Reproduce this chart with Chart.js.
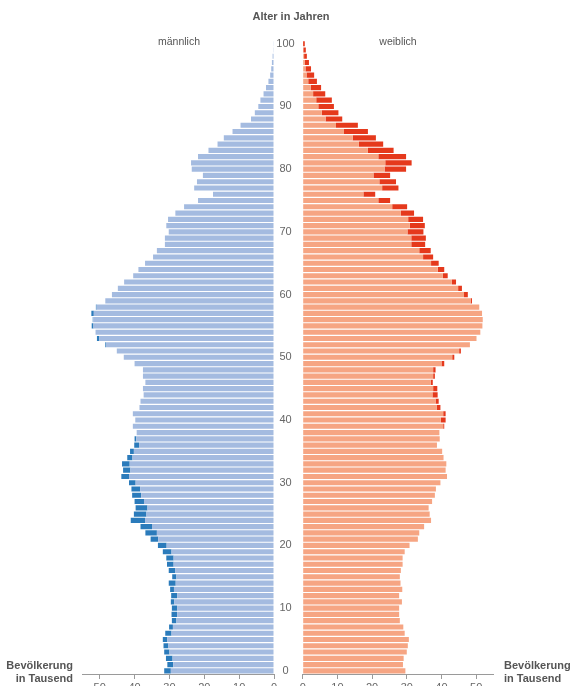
<!DOCTYPE html>
<html><head><meta charset="utf-8">
<script src="https://cdn.jsdelivr.net/npm/chart.js@4"></script>
<style>
html,body{margin:0;padding:0;width:575px;height:686px;overflow:hidden;background:#fff;font-family:"Liberation Sans",Arial,sans-serif;}
#wrap{position:relative;width:575px;height:686px;overflow:hidden;}
.c{position:absolute;top:0;}
.t{position:absolute;color:#555;white-space:nowrap;line-height:13px;}
</style></head><body>
<div id="wrap">
<canvas id="m" class="c" style="left:0" width="280" height="700"></canvas>
<canvas id="f" class="c" style="left:274px" width="301" height="700"></canvas>
<div class="t" style="left:291px;top:10px;transform:translateX(-50%);font-weight:bold;font-size:11px">Alter in Jahren</div>
<div class="t" style="left:179px;top:35px;transform:translateX(-50%);font-size:10.5px">männlich</div>
<div class="t" style="left:398px;top:35px;transform:translateX(-50%);font-size:10.5px">weiblich</div>
<div class="t" style="right:502px;top:659px;text-align:right;font-weight:bold;font-size:11px">Bevölkerung<br>in Tausend</div>
<div class="t" style="left:504px;top:659px;text-align:left;font-weight:bold;font-size:11px">Bevölkerung<br>in Tausend</div>
</div>
<script>
const ages = Array.from({length:101},(_,i)=>String(i));
const male = [31.5,30.6,31.0,31.5,31.7,31.9,31.2,30.1,29.3,29.4,
29.3,29.6,29.5,29.8,30.2,29.2,30.2,30.7,30.9,31.9,
33.3,35.4,36.9,38.3,41.1,40.2,39.7,40.0,40.7,40.9,
41.6,43.8,43.3,43.6,42.1,41.3,40.1,40.0,39.4,40.5,
39.8,40.5,38.6,38.3,37.4,37.6,36.9,37.6,37.6,40.0,
43.1,45.1,48.4,50.8,51.2,52.3,52.0,52.4,51.1,48.4,
46.5,44.8,43.0,40.4,38.9,37.0,34.7,33.6,31.3,31.3,
30.2,30.9,30.4,28.3,25.8,21.8,17.5,22.9,22.1,20.4,
23.6,23.8,21.8,18.8,16.2,14.4,11.9,9.6,6.6,5.5,
4.5,3.9,3.0,2.3,1.6,1.1,0.8,0.6,0.4,0.2,0.1];
const female = [29.6,28.9,29.1,30.0,30.3,30.6,29.4,29.0,28.0,27.8,
27.8,28.6,27.8,28.7,28.2,28.0,28.3,28.8,28.8,29.4,
30.8,33.2,33.6,35.0,37.0,36.6,36.3,37.3,38.1,38.4,
39.7,41.6,41.2,41.4,40.6,40.2,38.7,39.5,39.4,40.8,
41.2,41.2,39.7,39.2,38.9,38.8,37.5,38.1,38.3,40.8,
43.7,45.6,48.2,50.1,51.2,51.8,51.9,51.7,50.9,48.8,
47.6,45.9,44.2,41.8,40.8,39.2,37.6,36.9,35.3,35.5,
34.8,35.2,34.7,32.1,30.1,25.2,20.9,27.6,26.9,25.2,
29.8,31.4,29.8,26.2,23.2,21.1,18.8,15.9,11.4,10.3,
9.0,8.4,6.5,5.3,4.1,3.3,2.4,1.8,1.2,0.9,0.6];
const xTicks = [0,10,20,30,40,50];

const common = Math.min;
const baseVals = male.map((v,i)=>common(v,female[i]));
const maleExcess = male.map((v,i)=>Math.max(v-female[i],0));
const femaleExcess = female.map((v,i)=>Math.max(v-male[i],0));

const axisColor = '#9a9a9a';
const tickFont = {family:'"Liberation Sans", Arial, sans-serif', size:11};

function xAxis(reverse){
  return {
    type:'linear', position:'bottom', min:0, max:55, reverse:reverse, stacked:true,
    afterBuildTicks:s=>{ s.ticks = xTicks.map(v=>({value:v})); },
    afterFit:s=>{ s.height = 26; },
    grid:{drawOnChartArea:false, drawTicks:true, tickLength:5, color:axisColor},
    border:{display:true, color:axisColor},
    ticks:{color:'#666', font:tickFont, padding:2, maxRotation:0}
  };
}
const baseOpts = {
  responsive:false, animation:false, indexAxis:'y',
  plugins:{legend:{display:false}, tooltip:{enabled:false}},
  datasets:{bar:{barPercentage:0.82, categoryPercentage:1, borderWidth:0}}
};

new Chart(document.getElementById('m'), {
  type:'bar',
  data:{labels:ages, datasets:[
    {data:baseVals, backgroundColor:'#a4bbe0'},
    {data:maleExcess, backgroundColor:'#2b7bbb'}
  ]},
  options:Object.assign({}, baseOpts, {
    layout:{padding:{left:82.3, right:6, top:40.6, bottom:0}},
    scales:{
      x:xAxis(true),
      y:{type:'category', reverse:true, stacked:true, display:false}
    }
  })
});

new Chart(document.getElementById('f'), {
  type:'bar',
  data:{labels:ages, datasets:[
    {data:baseVals, backgroundColor:'#f6a583'},
    {data:femaleExcess, backgroundColor:'#e5391c'}
  ]},
  options:Object.assign({}, baseOpts, {
    layout:{padding:{left:0, right:81.5, top:40.6, bottom:0}},
    scales:{
      x:xAxis(false),
      y:{type:'category', reverse:true, stacked:true, position:'left',
         afterFit:s=>{ s.width = 28.7; },
         grid:{display:false}, border:{display:false},
         ticks:{autoSkip:false, crossAlign:'center', padding:0, color:'#666', font:tickFont,
           callback:function(v){ const a = this.getLabelForValue(v); return (+a % 10 === 0) ? a : ''; }}
      }
    }
  })
});
</script>
</body></html>
